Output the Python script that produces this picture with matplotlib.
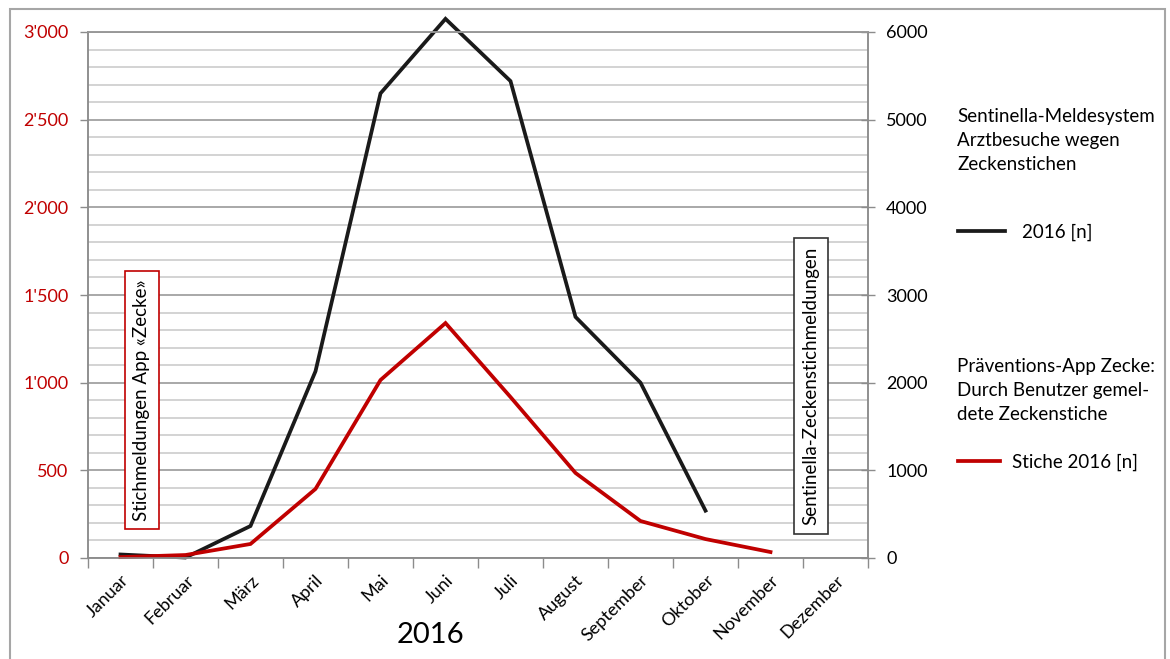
import matplotlib
matplotlib.use("Agg")
import matplotlib.pyplot as plt
from matplotlib.patches import Rectangle
from matplotlib.ticker import FuncFormatter, MultipleLocator

plt.rcParams["font.family"] = ["Lato", "DejaVu Sans"]

months = ["Januar", "Februar", "März", "April", "Mai", "Juni", "Juli",
          "August", "September", "Oktober", "November", "Dezember"]
# Sentinella: Arztbesuche wegen Zeckenstichen 2016 (rechte Achse), bis Oktober
sentinella = [40, 5, 365, 2130, 5300, 6150, 5440, 2750, 2000, 540]
# Präventions-App: gemeldete Stiche 2016 (linke Achse), bis November
app_stiche = [5, 17, 80, 394, 1015, 1340, 918, 485, 211, 108, 34]

RED = "#C00000"
GRID_MINOR = "#C8C8C8"
GRID_MAJOR = "#9A9A9A"
AXIS = "#8C8C8C"
FS = 13.5

W, H = 1170, 659
fig = plt.figure(figsize=(W / 100, H / 100), dpi=100)
ax = fig.add_axes([88 / W, 1 - 558 / H, (868 - 88) / W, (558 - 32) / H])
ax2 = ax.twinx()

# black series + grid live on the lower axes, red series on top
ax.set_zorder(ax2.get_zorder() + 1)
ax.patch.set_visible(False)

ax2.set_ylim(0, 6000)
ax2.yaxis.set_major_locator(MultipleLocator(1000))
ax2.yaxis.set_minor_locator(MultipleLocator(200))
ax2.grid(which="minor", axis="y", color=GRID_MINOR, lw=1.1)
ax2.grid(which="major", axis="y", color=GRID_MAJOR, lw=1.2)
ax2.set_axisbelow(True)
ax2.plot(range(len(sentinella)), sentinella, color="#1a1a1a", lw=2.7,
         solid_joinstyle="miter", clip_on=False, label="2016 [n]")
ax2.tick_params(axis="y", which="major", direction="inout", length=10,
                width=1, color=AXIS, labelsize=13, pad=8)
ax2.tick_params(axis="y", which="minor", length=0)

ax.set_ylim(0, 3000)
ax.set_xlim(-0.5, 11.5)
ax.yaxis.set_major_locator(MultipleLocator(500))
ax.yaxis.set_major_formatter(FuncFormatter(lambda v, p: f"{int(v):,}".replace(",", "'")))
ax.plot(range(len(app_stiche)), app_stiche, color=RED, lw=2.7,
        solid_joinstyle="miter", clip_on=False, label="Stiche 2016 [n]")
ax.tick_params(axis="y", direction="out", length=6, width=1, color=AXIS,
               labelcolor=RED, labelsize=13, pad=8)

ax.set_xticks(range(12))
ax.set_xticklabels(months, rotation=45, ha="right", rotation_mode="anchor")
ax.set_xticks([i - 0.5 for i in range(13)], minor=True)
ax.tick_params(axis="x", which="major", length=0, labelsize=13, pad=10)
ax.tick_params(axis="x", which="minor", length=7, width=1, color=AXIS)

for a in (ax, ax2):
    for s in a.spines.values():
        s.set_color(AXIS)
        s.set_linewidth(1.1)
ax.spines["top"].set_color(GRID_MAJOR)

fig.text(430 / W, 1 - 635 / H, "2016", fontsize=21, ha="center", va="center")

# vertical axis captions in boxes
fig.text(142 / W, 1 - 400 / H, "Stichmeldungen App «Zecke»", rotation=90,
         fontsize=FS, ha="center", va="center",
         bbox=dict(boxstyle="square,pad=0.45", fc="white", ec=RED, lw=1.2))
fig.text(811 / W, 1 - 386 / H, "Sentinella-Zeckenstichmeldungen", rotation=90,
         fontsize=FS, ha="center", va="center",
         bbox=dict(boxstyle="square,pad=0.45", fc="white", ec="#333333", lw=1.2))

# legend blocks
fig.text(957 / W, 1 - 108 / H,
         "Sentinella-Meldesystem\nArztbesuche wegen\nZeckenstichen",
         fontsize=FS, ha="left", va="top", linespacing=1.5)
h2, l2 = ax2.get_legend_handles_labels()
fig.legend(h2, l2, loc="center left", bbox_to_anchor=(958 / W, 1 - 232 / H),
           frameon=False, fontsize=FS, borderpad=0, borderaxespad=0,
           handlelength=2.5, handletextpad=0.9)

fig.text(957 / W, 1 - 358 / H,
         "Präventions-App Zecke:\nDurch Benutzer gemel-\ndete Zeckenstiche",
         fontsize=FS, ha="left", va="top", linespacing=1.5)
h1, l1 = ax.get_legend_handles_labels()
fig.legend(h1, l1, loc="center left", bbox_to_anchor=(958 / W, 1 - 462 / H),
           frameon=False, fontsize=FS, borderpad=0, borderaxespad=0,
           handlelength=2.25, handletextpad=0.65)

# outer frame of the chart area
fig.patches.append(Rectangle((10 / W, -0.05), (1165 - 10) / W, 1 - 9 / H + 0.05,
                             transform=fig.transFigure, fill=False,
                             ec="#A6A6A6", lw=1.5))

fig.savefig("out.png", dpi=100)
